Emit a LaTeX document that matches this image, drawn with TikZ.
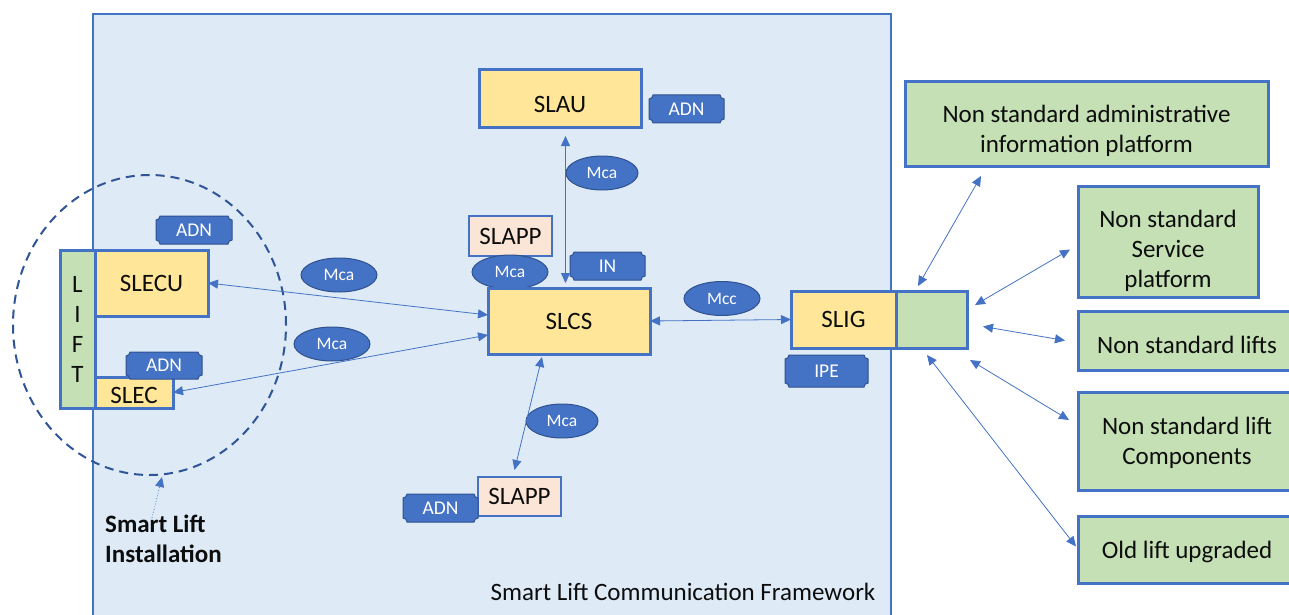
\documentclass[tikz,border=0pt]{standalone}
\usepackage{fontspec}
\setmainfont{Carlito}
\usetikzlibrary{arrows.meta,calc,shapes.geometric}
\definecolor{frameblue}{HTML}{DEEBF7}
\definecolor{accent}{HTML}{4472C4}
\definecolor{darkacc}{HTML}{2F528F}
\definecolor{dashblue}{HTML}{2F5597}
\definecolor{ylw}{HTML}{FFE699}
\definecolor{grn}{HTML}{C5E0B4}
\definecolor{peach}{HTML}{FBE5D6}
\definecolor{txt}{HTML}{0D0D0D}
\newcommand\plaque[6]{% name, x0, y0, x1, y1, text
  \path[plaqueshape] (#2+4,#3) -- (#4-4,#3) arc[start angle=180,end angle=90,radius=4]
    -- (#4,#5-4) arc[start angle=270,end angle=180,radius=4]
    -- (#2+4,#5) arc[start angle=0,end angle=-90,radius=4]
    -- (#2,#3+4) arc[start angle=90,end angle=0,radius=4] -- cycle;
  \node[plaquetext] (#1) at ({(#2+#4)/2},{(#3+#5)/2}) {#6};
}
\tikzset{
  bigfont/.style={font=\fontsize{25}{30}\selectfont},
  box/.style={draw=accent, line width=3pt, fill=ylw, inner sep=0pt, outer sep=0pt, bigfont, align=center, text=txt},
  greenbox/.style={box, fill=grn},
  boxtext/.style={bigfont, align=center, text=txt, inner sep=0pt, fill=none, draw=none},
  appbox/.style={draw=accent, line width=1.5pt, fill=peach, inner sep=0pt, outer sep=0pt, bigfont, text=txt},
  refpt/.style={ellipse, fill=accent, draw=darkacc, line width=1pt, text=white, inner sep=0pt,
    font=\fontsize{17.5}{19}\selectfont, minimum width=76pt, minimum height=34pt},
  plaqueshape/.style={fill=accent, draw=darkacc, line width=1pt},
  plaquetext/.style={text=white, inner sep=0pt, font=\fontsize{19.5}{21}\selectfont},
  link/.style={accent, line width=0.8pt, {Triangle[length=10pt,width=9pt]}-{Triangle[length=10pt,width=9pt]}},
}
\begin{document}
\begin{tikzpicture}[x=1pt,y=-1pt]
\useasboundingbox (0,0) rectangle (1289,615);
\clip (0,0) rectangle (1289,615);
\fill[white] (0,0) rectangle (1289,615);

% framework
\node[draw=accent, line width=1.5pt, fill=frameblue, minimum width=798pt, minimum height=611pt, inner sep=0pt] (frame) at (492,319.5) {};
\node[bigfont, text=txt] (framelbl) at (683,592) {Smart Lift Communication Framework};

% smart lift installation ellipse
\node[ellipse, draw=dashblue, dashed, dash pattern=on 9pt off 6pt, line width=2pt, minimum width=273pt, minimum height=300pt, inner sep=0pt] (sle) at (149.5,325) {};
\node[font=\fontsize{25}{30}\selectfont\bfseries, align=left, anchor=north west, inner sep=0pt, text=txt] (sli) at (105,515) {Smart Lift\\Installation};
\coordinate (slitail) at (152,518);
\draw[accent, dotted, line width=0.8pt, -{Triangle[length=10pt,width=9pt]}] (slitail) -- ($(sle.south)+(12.5,1)$);

% reference point ellipses
\node[refpt] (mcal1) at (339,275) {Mca};
\node[refpt] (mcal2) at (332,344) {Mca};
\node[refpt, minimum width=72pt] (mcatop) at (602,173) {Mca};
\node[refpt] (mcc) at (722,298.5) {Mcc};
\node[refpt, minimum width=72pt] (mcab) at (562,421) {Mca};

% lift side
\node[greenbox, minimum width=35pt, minimum height=158pt] (lift) at (77.5,329) {L\\I\\F\\T};
\node[box, minimum width=113pt, minimum height=66pt] (slecu) at (151.5,283) {SLECU};
\node[box, minimum width=78pt, minimum height=31pt, label={[boxtext, yshift=-3pt]center:SLEC}] (slec) at (134,392.5) {};
\plaque{adnA}{156}{216}{232}{244}{ADN}
\plaque{adnB}{126}{352}{202}{379}{ADN}

% central
\node[box, minimum width=162pt, minimum height=57pt, label={[boxtext, yshift=-6pt]center:SLAU}] (slau) at (560,98.5) {};
\plaque{adnC}{649}{95}{724}{123}{ADN}
\node[appbox, minimum width=83pt, minimum height=40pt] (slappA) at (510.5,236) {SLAPP};
\node[refpt] (mcaapp) at (510,272) {Mca};
\plaque{inp}{570}{252}{645}{280}{IN}
\node[box, minimum width=162pt, minimum height=66pt] (slcs) at (569,321) {SLCS};
\node[appbox, minimum width=83pt, minimum height=39pt] (slappB) at (519.5,496.5) {SLAPP};
\plaque{adnD}{403}{494}{478}{522}{ADN}

% gateway
\node[box, minimum width=105pt, minimum height=57pt] (slig) at (843.5,319.5) {SLIG};
\node[greenbox, minimum width=71pt, minimum height=57pt] (sligg) at (931.5,319.5) {};
\plaque{ipe}{785}{355}{868}{387}{IPE}

% right boxes
\node[greenbox, minimum width=363pt, minimum height=84pt,
  label={[boxtext, yshift=-7pt]center:{Non standard administrative\\information platform}}] (boxA) at (1086.5,124) {};
\node[greenbox, minimum width=180pt, minimum height=111pt,
  label={[boxtext, yshift=-9pt]center:{Non standard\\Service\\platform}}] (boxB) at (1168,241.5) {};
\node[greenbox, minimum width=218pt, minimum height=59pt,
  label={[boxtext, yshift=-4pt]center:{Non standard lifts}}] (boxC) at (1187,340.5) {};
\node[greenbox, minimum width=218pt, minimum height=98pt,
  label={[boxtext, yshift=-1.5pt]center:{Non standard lift\\Components}}] (boxD) at (1187,441) {};
\node[greenbox, minimum width=218pt, minimum height=67pt,
  label={[boxtext, yshift=-2pt]center:{Old lift upgraded}}] (boxE) at (1187,549.5) {};

% connectors
\draw[link] (slecu.east) -- ($(slcs.west)+(0,-6)$);
\draw[link] (slec.east) -- ($(slcs.west)+(0,14)$);
\draw[link] ($(slau.south)+(5.5,9)$) -- ($(slcs.north)+(-3.5,-5)$);
\draw[link] ($(slcs.south)+(-27,3)$) -- ($(slappB.north)+(-5,-7)$);
\draw[link] (slcs.east) -- (slig.west);
\draw[link] ($(sligg.north west)+(22,-5)$) -- ($(boxA.south west)+(76,10)$);
\draw[link] ($(sligg.north east)+(8,14)$) -- ($(boxB.west)+(-8,8)$);
\draw[link] ($(sligg.east)+(16,7)$) -- ($(boxC.west)+(-13,0)$);
\draw[link] ($(sligg.south east)+(3,12)$) -- ($(boxD.west)+(-9,-21)$);
\draw[link] ($(sligg.south west)+(31,7)$) -- ($(boxE.west)+(-2,-3)$);
\end{tikzpicture}
\end{document}
